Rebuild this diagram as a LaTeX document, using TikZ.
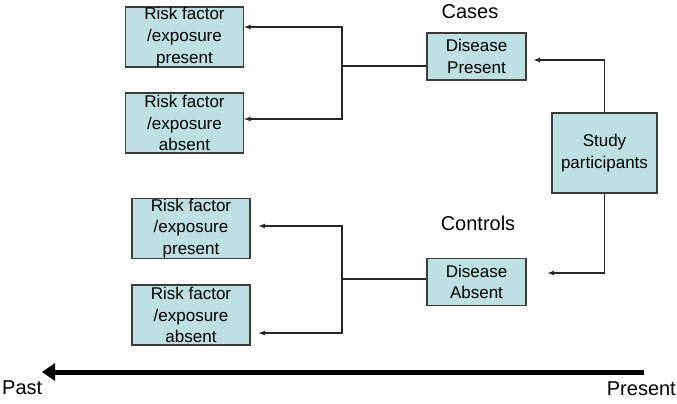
\documentclass[tikz,border=0pt]{standalone}
\usepackage{fontspec}
\setmainfont{Liberation Sans}
\usetikzlibrary{arrows,arrows.meta}
\definecolor{boxfill}{RGB}{190,224,227}
\definecolor{boxline}{RGB}{60,60,60}
\tikzstyle{risk}=[draw=boxline, fill=boxfill, line width=1.2pt, align=center,
inner sep=0pt, minimum width=118pt, minimum height=60pt, font=\fontsize{17}{21.7}\selectfont]
\tikzstyle{disease}=[risk, minimum width=99pt, minimum height=47pt]
\tikzstyle{study}=[risk, minimum width=105pt, minimum height=80pt]
\tikzstyle{label}=[font=\fontsize{20}{24}\selectfont, inner sep=0pt]
\tikzstyle{link}=[draw=black!85, line width=1.2pt]

\begin{document}
\begin{tikzpicture}[x=1pt,y=-1pt]
\useasboundingbox (0,0) rectangle (677,404);

\node[risk](risk1)at (184.5,37){Risk factor\\/exposure\\present};
\node[risk](risk2)at (184.5,123){Risk factor\\/exposure\\absent};
\node[risk](risk3)at (191,228.5){Risk factor\\/exposure\\present};
\node[risk](risk4)at (191,315){Risk factor\\/exposure\\absent};

\node[disease](cases)at (476.5,56.5){Disease\\Present};
\node[disease](controls)at (476.5,282){Disease\\Absent};
\node[study](study)at (604.5,153){Study\\participants};

\node[label](caseslabel)at (470,12){Cases};
\node[label](controlslabel)at (478,223){Controls};
\node[label,anchor=west](past)at (2,388){Past};
\node[label,anchor=east](present)at (676,389){Present};

\coordinate (bus1) at (342,66);
\coordinate (bus2) at (342,279);
\coordinate (bus1top) at (342,27);
\coordinate (bus1bot) at (342,119);
\coordinate (bus2top) at (342,226);
\coordinate (bus2bot) at (342,333);
\coordinate (upturn) at (604.5,60);
\coordinate (downturn) at (604.5,273);
\coordinate (now) at (644,372);
\coordinate (then) at (42,372);

% cases branch
\draw[link] (cases.west |- bus1) -- (bus1);
\draw[link,-latex] (bus1) -- (bus1top) -- (bus1top -| risk1.east);
\draw[link,-latex] (bus1) -- (bus1bot) -- (bus1bot -| risk2.east);

% controls branch
\draw[link] (controls.west |- bus2) -- (bus2);
\draw[link,-latex,shorten >=8pt] (bus2) -- (bus2top) -- (bus2top -| risk3.east);
\draw[link,-latex,shorten >=8pt] (bus2) -- (bus2bot) -- (bus2bot -| risk4.east);

% from participants
\draw[link,-latex,shorten >=7pt] (study.north) -- (upturn) -- (upturn -| cases.east);
\draw[link,-latex,shorten >=21pt] (study.south) -- (downturn) -- (downturn -| controls.east);

% time line
\draw[line width=5pt,-{Triangle[length=13pt,width=17pt]}] (now) -- (then);
\end{tikzpicture}
\end{document}
